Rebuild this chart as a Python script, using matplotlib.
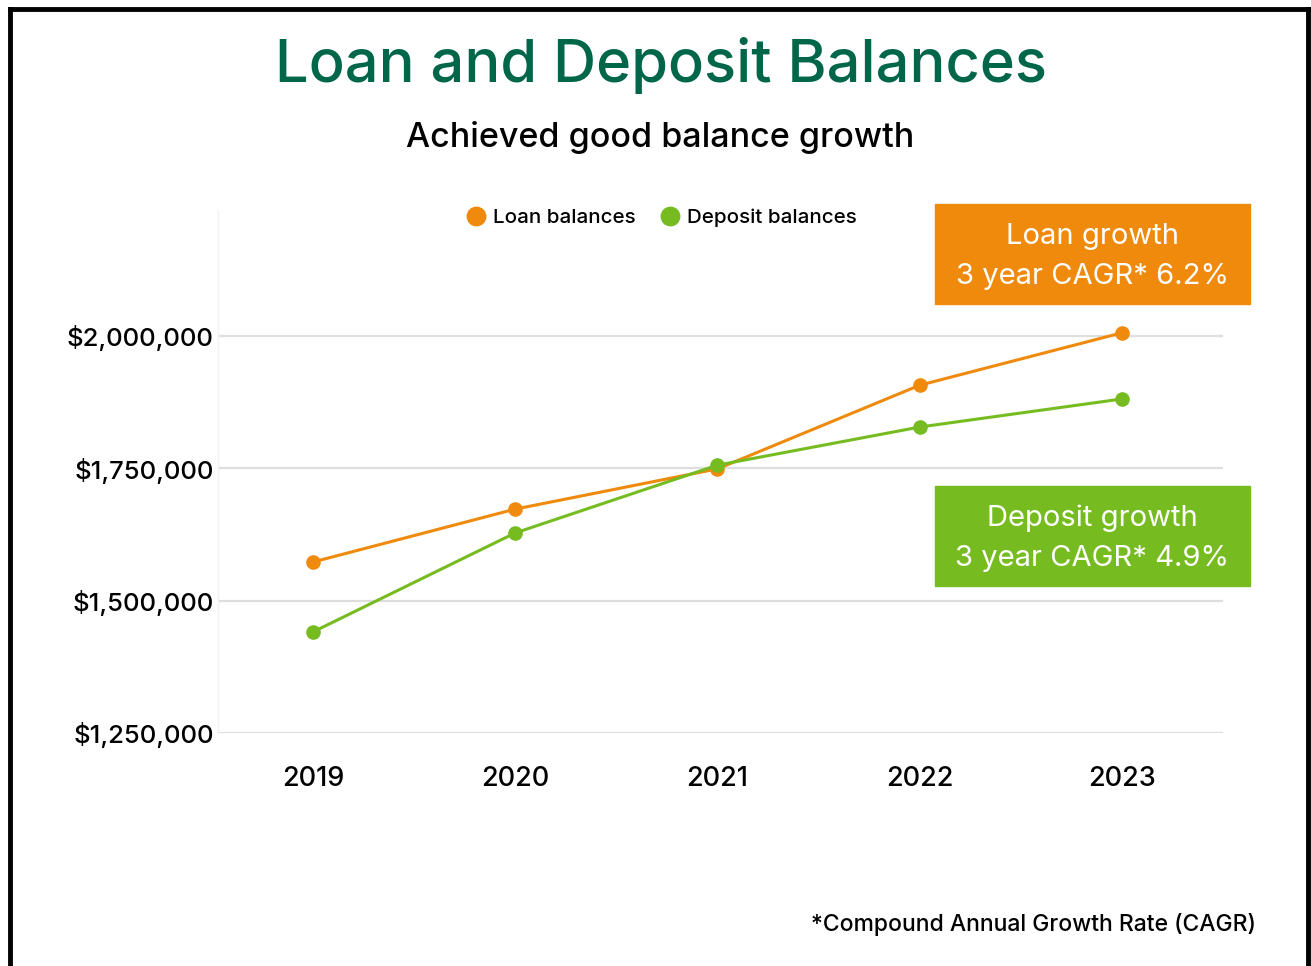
import matplotlib
matplotlib.use("Agg")
import matplotlib.pyplot as plt
from matplotlib.patches import Rectangle
from matplotlib.lines import Line2D

plt.rcParams['font.family'] = ['Inter', 'DejaVu Sans']

# data
years = ['2019', '2020', '2021', '2022', '2023']
loan_balances = [1573000, 1673000, 1749000, 1907000, 2006000]
deposit_balances = [1441000, 1628000, 1756000, 1828000, 1881000]
y_ticks = [1250000, 1500000, 1750000, 2000000]
loan_note = ['Loan growth', '3 year CAGR* 6.2%']
deposit_note = ['Deposit growth', '3 year CAGR* 4.9%']

orange = '#EF8A0C'
green = '#76BC21'
title_green = '#00664A'

W, H = 1311, 966
fig = plt.figure(figsize=(W / 100, H / 100), dpi=100)
fig.patch.set_facecolor('white')

# black frame (open at the bottom)
frame_kw = dict(color='black', linewidth=3.5, transform=fig.transFigure)
fig.add_artist(Line2D([10 / W, 10 / W], [0, 1 - 9 / H], **frame_kw))
fig.add_artist(Line2D([1308 / W, 1308 / W], [0, 1 - 9 / H], **frame_kw))
fig.add_artist(Line2D([10 / W, 1308 / W], [1 - 9 / H, 1 - 9 / H], **frame_kw))

ax = fig.add_axes([218 / W, 1 - 733 / H, (1223 - 218) / W, (733 - 210) / H])
x = list(range(len(years)))

ax.plot(x, loan_balances, color=orange, lw=2.2, marker='o', ms=9.5, zorder=3,
        label='Loan balances')
ax.plot(x, deposit_balances, color=green, lw=2.2, marker='o', ms=9.5, zorder=4,
        label='Deposit balances')

ax.set_xlim(-0.47, 4.5)
ax.set_ylim(1250000, 2238000)
ax.set_yticks(y_ticks)
ax.set_yticklabels(['${:,.0f}'.format(v) for v in y_ticks])
ax.set_xticks(x)
ax.set_xticklabels(years)
ax.yaxis.grid(True, color='#dedede', lw=1.6)
ax.set_axisbelow(True)
for s in ['top', 'right', 'bottom']:
    ax.spines[s].set_visible(False)
ax.spines['left'].set_color('#f2f2f2')
ax.spines['left'].set_linewidth(1)
ax.tick_params(axis='y', length=0, labelsize=18.5, colors='black', pad=3)
ax.tick_params(axis='x', length=0, labelsize=19.5, colors='black', pad=24)
for t in ax.get_yticklabels() + ax.get_xticklabels():
    t.set_fontweight('medium')

leg = fig.legend(loc='center', bbox_to_anchor=(662 / W, 1 - 218 / H), ncol=2,
                 frameon=False, handlelength=0.9,
                 handletextpad=0.4, columnspacing=1.2, markerscale=1.4,
                 prop={'size': 14.8, 'weight': 'medium'})
for h in leg.legend_handles:
    h.set_linestyle('')

fig.text(661 / W, 1 - 65 / H, 'Loan and Deposit Balances', ha='center',
         va='center', fontsize=43, color=title_green, fontweight='medium')
fig.text(660 / W, 1 - 138 / H, 'Achieved good balance growth', ha='center',
         va='center', fontsize=24.5, color='black', fontweight='medium')

# growth boxes
for note, colour, top in [(loan_note, orange, 204), (deposit_note, green, 486)]:
    fig.add_artist(Rectangle((935 / W, 1 - (top + 100) / H), 315 / W, 100 / H,
                             transform=fig.transFigure, color=colour, zorder=5))
    fig.text(1092 / W, 1 - (top + 32) / H, note[0], ha='center', va='center',
             fontsize=21, color='white', zorder=6)
    fig.text(1092 / W, 1 - (top + 73) / H, note[1], ha='center', va='center',
             fontsize=21, color='white', zorder=6)

fig.text(1256 / W, 1 - 924 / H, '*Compound Annual Growth Rate (CAGR)',
         ha='right', va='center', fontsize=16.5, color='black',
         fontweight='medium')

fig.savefig('out.png', dpi=100, facecolor='white')
